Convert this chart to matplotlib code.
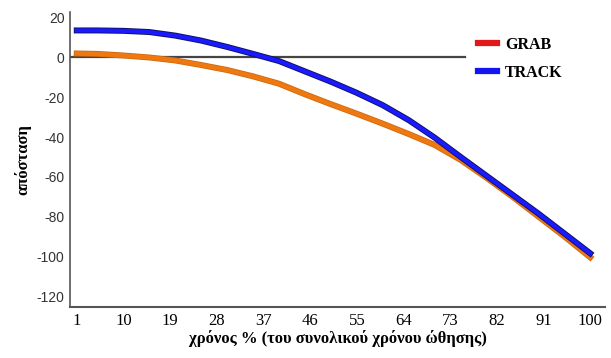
import matplotlib.pyplot as plt
import matplotlib.patheffects as pe

plt.rcParams['axes.unicode_minus'] = False

# time as % of total push time
time_pct = [1, 5, 10, 15, 20, 25, 30, 35, 40, 45, 50, 55, 60, 65, 70, 75, 80, 85, 90, 95, 100]
grab = [2, 1.8, 1, 0, -1.5, -3.8, -6.3, -9.5, -13.2, -18.5, -23.5, -28.3, -33.3, -38.5, -44,
        -51.5, -60.5, -70, -80, -90, -100.5]
track = [13.6, 13.6, 13.4, 12.8, 11, 8.5, 5.3, 1.8, -1.8, -7, -12.2, -17.8, -24, -31.5, -40.3,
         -50, -59.5, -69, -78.5, -88.5, -98.5]

xticks = [1, 10, 19, 28, 37, 46, 55, 64, 73, 82, 91, 100]
yticks = [20, 0, -20, -40, -60, -80, -100, -120]

fig = plt.figure(figsize=(6.11, 3.58), dpi=100)
ax = fig.add_axes([0.1146, 0.1425, 0.876, 0.823])

# zero reference line
ax.plot([-0.3, 75.9], [0, 0], color='#444444', lw=1.6, zorder=2)

ax.plot(time_pct, grab, color='#f07810', lw=3.2, zorder=3,
        path_effects=[pe.Stroke(linewidth=4.3, foreground='#c86a10'), pe.Normal()])
ax.plot(time_pct, track, color='#1a1aff', lw=3.0, zorder=4,
        path_effects=[pe.Stroke(linewidth=4.3, foreground='#101060'), pe.Normal()])

# legend handles (GRAB shown in red in the legend)
h1, = ax.plot([], [], color='#e01818', lw=4.5)
h2, = ax.plot([], [], color='#1414ee', lw=4.5)
ax.legend([h1, h2], ['GRAB', 'TRACK'], loc='upper left', bbox_to_anchor=(0.735, 0.965),
          frameon=False, handlelength=1.2, handletextpad=0.5, labelspacing=0.75,
          prop={'family': 'Liberation Serif', 'weight': 'bold', 'size': 11.5})

ax.set_xlim(-0.3, 102.9)
ax.set_ylim(-125.5, 22.7)
ax.set_xticks(xticks)
ax.set_yticks(yticks)
ax.tick_params(length=0, pad=4)
for lab in ax.get_xticklabels():
    lab.set_fontfamily('Liberation Serif')
    lab.set_fontsize(12)
for lab in ax.get_yticklabels():
    lab.set_fontfamily('Liberation Sans')
    lab.set_fontsize(10)
    lab.set_color('#333333')

ax.spines['top'].set_visible(False)
ax.spines['right'].set_visible(False)
ax.spines['left'].set_color('#555555')
ax.spines['bottom'].set_color('#555555')
ax.spines['left'].set_linewidth(1.2)
ax.spines['bottom'].set_linewidth(1.5)

ax.set_xlabel('χρόνος % (του συνολικού χρόνου ώθησης)', family='Liberation Serif',
              fontweight='bold', fontsize=12, labelpad=1)
ax.set_ylabel('απόσταση', family='Liberation Serif', fontweight='bold', fontsize=12,
              labelpad=4)

fig.savefig('out.png', dpi=100)
